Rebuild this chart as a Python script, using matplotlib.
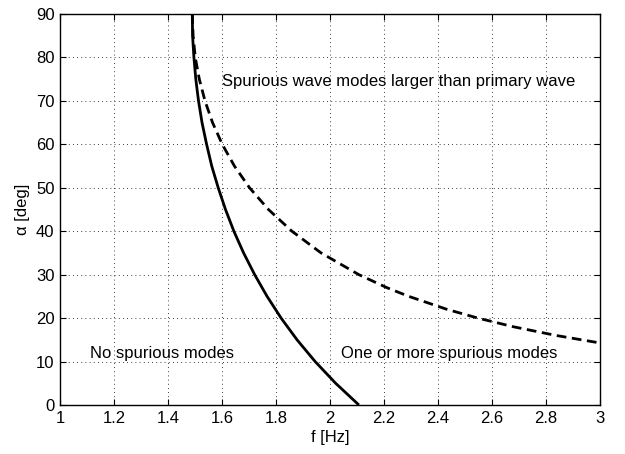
import matplotlib
matplotlib.use("Agg")
import matplotlib.pyplot as plt

# Solid boundary curve: alpha [deg] vs f [Hz]
solid_alpha = [90, 85, 80, 75, 70, 65, 60, 55, 50, 45, 40, 35, 30, 25, 20, 15, 10, 5, 0]
solid_f = [1.490, 1.491, 1.496, 1.503, 1.513, 1.526, 1.543, 1.562, 1.586, 1.613,
           1.644, 1.680, 1.721, 1.767, 1.819, 1.878, 1.945, 2.021, 2.107]

# Dashed boundary curve
dashed_alpha = [90, 85, 80, 75, 70, 65, 60, 55, 50, 45, 40, 35, 30, 27, 25, 22, 20, 18, 16, 14.3]
dashed_f = [1.490, 1.493, 1.501, 1.516, 1.537, 1.565, 1.601, 1.646, 1.702, 1.772,
            1.859, 1.967, 2.107, 2.211, 2.292, 2.434, 2.548, 2.680, 2.838, 2.998]

xticks = [1, 1.2, 1.4, 1.6, 1.8, 2, 2.2, 2.4, 2.6, 2.8, 3]
xticklabels = ["1", "1.2", "1.4", "1.6", "1.8", "2", "2.2", "2.4", "2.6", "2.8", "3"]
yticks = [0, 10, 20, 30, 40, 50, 60, 70, 80, 90]

plt.rcParams['font.family'] = ['Liberation Sans', 'DejaVu Sans']

fs = 12
fig = plt.figure(figsize=(6.25, 4.54), dpi=100)
ax = fig.add_axes([60/625, 1 - 405/454, (600 - 60)/625, (405 - 14)/454])

ax.plot(solid_f, solid_alpha, color='black', linewidth=2.0, solid_capstyle='butt')
ax.plot(dashed_f, dashed_alpha, color='black', linewidth=2.0, linestyle=(0, (3.5, 2)))

ax.set_xlim(1, 3)
ax.set_ylim(0, 90)
ax.set_xticks(xticks)
ax.set_xticklabels(xticklabels)
ax.set_yticks(yticks)
ax.tick_params(direction='in', top=True, right=True, labelsize=fs, length=4, width=0.8, pad=4)
ax.grid(True, linestyle=(0, (1, 4)), color='black', linewidth=0.6)
for s in ax.spines.values():
    s.set_linewidth(1.0)

ax.set_xlabel('f [Hz]', fontsize=fs, labelpad=3)
ax.set_ylabel('α [deg]', fontsize=fs, labelpad=4)

ax.text(1.6, 74.5, 'Spurious wave modes larger than primary wave', fontsize=fs, va='center', ha='left')
ax.text(1.11, 11.8, 'No spurious modes', fontsize=fs, va='center', ha='left')
ax.text(2.04, 11.8, 'One or more spurious modes', fontsize=fs, va='center', ha='left')

fig.savefig('out.png', dpi=100)
